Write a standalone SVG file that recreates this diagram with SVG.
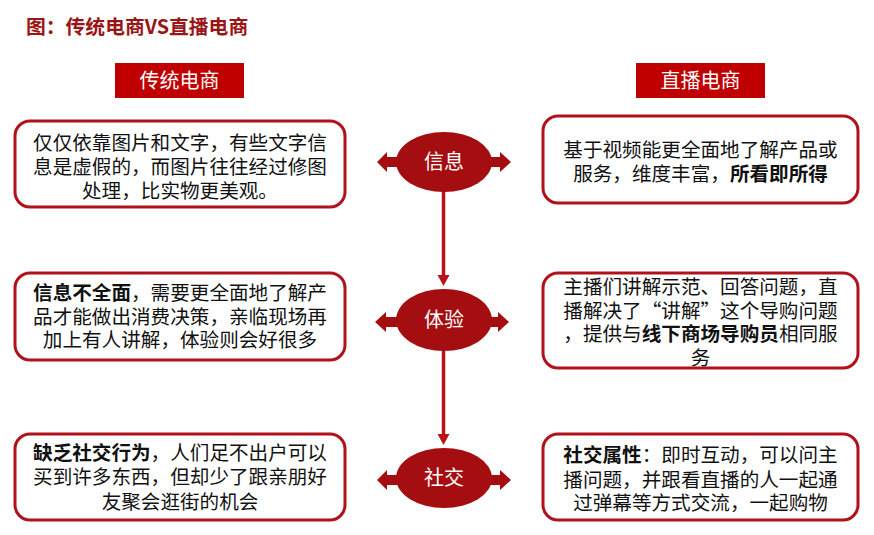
<svg xmlns="http://www.w3.org/2000/svg" width="874" height="535" viewBox="0 0 874 535">
<style>
.t{font-family:"Microsoft YaHei","Noto Sans CJK SC","Noto Sans",sans-serif;}
.title{font-size:19.8px;font-weight:bold;fill:#9A1515;}
.hdr{fill:#C00000;}
.hdrt{font-size:20px;fill:#fff;text-anchor:middle;}
.box{fill:#fff;stroke:#B0121B;stroke-width:3;}
.bt{font-size:19.6px;fill:#111;text-anchor:middle;}
.b{font-weight:bold;}
.ell{fill:#A50E10;}
.et{font-size:20px;fill:#fff;text-anchor:middle;}
.arr{fill:#A50E10;}
.vl{stroke:#B8121A;stroke-width:3.5;fill:none;}
.vh{fill:#B8121A;}
</style>
<text class="t title" x="26" y="34">图：传统电商VS直播电商</text>
<g id="hdr-left"><rect class="hdr" x="115" y="63" width="129" height="35"/><text class="t hdrt" x="179.5" y="88">传统电商</text></g>
<g id="hdr-right"><rect class="hdr" x="636" y="63" width="129" height="35"/><text class="t hdrt" x="700.5" y="88">直播电商</text></g>
<g id="connectors">
<path class="vl" d="M443.5 190 V277"/>
<polygon class="vh" points="437.5,275 449.5,275 443.5,286"/>
<path class="vl" d="M443.5 348 V436"/>
<polygon class="vh" points="437.5,434 449.5,434 443.5,445"/>
<path class="arr" d="M402 157 H387 V152 L377 162 L387 172 V167 H402 Z"/>
<path class="arr" d="M486 157 H500 V152 L511 162 L500 172 V167 H486 Z"/>
<path class="arr" d="M402 317 H386 V312 L375 322 L386 332 V327 H402 Z"/>
<path class="arr" d="M486 317 H498 V312 L509 322 L498 332 V327 H486 Z"/>
<path class="arr" d="M402 475 H387 V470 L377 480 L387 490 V485 H402 Z"/>
<path class="arr" d="M486 475 H500 V470 L511 480 L500 490 V485 H486 Z"/>
</g>
<g id="node-info"><ellipse class="ell" cx="444" cy="162" rx="48" ry="30"/><text class="t et" x="444" y="169">信息</text></g>
<g id="node-exp"><ellipse class="ell" cx="444" cy="320" rx="48" ry="31"/><text class="t et" x="444" y="327">体验</text></g>
<g id="node-social"><ellipse class="ell" cx="444" cy="478" rx="48" ry="30"/><text class="t et" x="444" y="485">社交</text></g>
<g id="box-l1"><rect class="box" x="15" y="121" width="330" height="86" rx="15"/>
<text class="t bt" x="180" y="150">仅仅依靠图片和文字，有些文字信</text>
<text class="t bt" x="180" y="174">息是虚假的，而图片往往经过修图</text>
<text class="t bt" x="180" y="198">处理，比实物更美观。</text></g>
<g id="box-r1"><rect class="box" x="543" y="116" width="315" height="87" rx="15"/>
<text class="t bt" x="700.5" y="157">基于视频能更全面地了解产品或</text>
<text class="t bt" x="700.5" y="181">服务，维度丰富，<tspan class="b">所看即所得</tspan></text></g>
<g id="box-l2"><rect class="box" x="15" y="273" width="330" height="87" rx="15"/>
<text class="t bt" x="180" y="300"><tspan class="b">信息不全面</tspan>，需要更全面地了解产</text>
<text class="t bt" x="180" y="324">品才能做出消费决策，亲临现场再</text>
<text class="t bt" x="180" y="347">加上有人讲解，体验则会好很多</text></g>
<g id="box-r2"><rect class="box" x="543" y="273" width="315" height="95" rx="15"/>
<text class="t bt" x="700.5" y="294">主播们讲解示范、回答问题，直</text>
<text class="t bt" x="700.5" y="318">播解决了“讲解”这个导购问题</text>
<text class="t bt" x="700.5" y="341">，提供与<tspan class="b">线下商场导购员</tspan>相同服</text>
<text class="t bt" x="700.5" y="365">务</text></g>
<g id="box-l3"><rect class="box" x="15" y="434" width="330" height="86" rx="15"/>
<text class="t bt" x="180" y="460"><tspan class="b">缺乏社交行为</tspan>，人们足不出户可以</text>
<text class="t bt" x="180" y="484">买到许多东西，但却少了跟亲朋好</text>
<text class="t bt" x="180" y="509">友聚会逛街的机会</text></g>
<g id="box-r3"><rect class="box" x="543" y="434" width="315" height="86" rx="15"/>
<text class="t bt" x="700.5" y="462"><tspan class="b">社交属性</tspan>：即时互动，可以问主</text>
<text class="t bt" x="700.5" y="487">播问题，并跟看直播的人一起通</text>
<text class="t bt" x="700.5" y="510">过弹幕等方式交流，一起购物</text></g>
</svg>
